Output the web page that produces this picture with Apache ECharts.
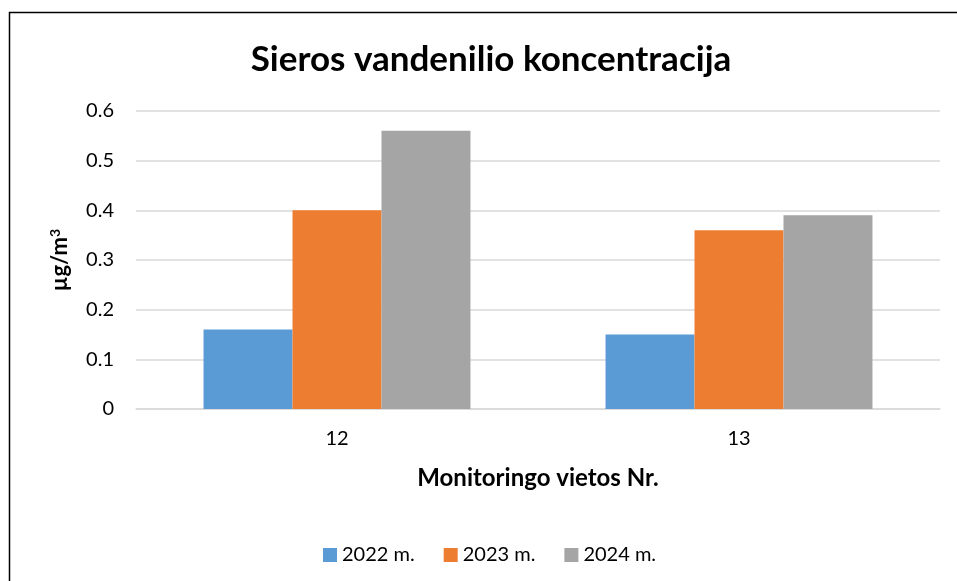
<!DOCTYPE html>
<html><head><meta charset="utf-8">
<script src="https://cdn.jsdelivr.net/npm/echarts@6/dist/echarts.min.js"></script>
<style>html,body{margin:0;padding:0;background:#fff}#c{width:957px;height:581px}</style>
</head><body><div id="c"></div>
<script>
const categories = ['12', '13'];
const seriesNames = ['2022 m.', '2023 m.', '2024 m.'];
const v2022 = [0.16, 0.15];
const v2023 = [0.40, 0.36];
const v2024 = [0.56, 0.39];
const colors = ['#5B9BD5', '#ED7D31', '#A5A5A5'];
const values = [v2022, v2023, v2024];
const F = 'Lato, "Open Sans", sans-serif';
const chart = echarts.init(document.getElementById('c'));
chart.setOption({
  animation: false,
  graphic: [{type:'rect', shape:{x:9.5, y:12.5, width:960, height:600}, style:{fill:'none', stroke:'#000', lineWidth:1.5}}],
  title: {text:'Sieros vandenilio koncentracija', left:486, textAlign:'center', top:37,
    textStyle:{fontFamily:F, fontSize:35, fontWeight:'bold', color:'#000'}},
  legend: {top:540, left:318, itemWidth:14, itemHeight:14, itemGap:29, icon:'rect',
    textStyle:{fontFamily:F, fontSize:20, color:'#000'}, data: seriesNames},
  grid: {left:136, right:17, top:111, bottom:172},
  xAxis: {type:'category', data:categories, name:'Monitoringo vietos Nr.', nameLocation:'middle', nameGap:57,
    nameTextStyle:{fontFamily:F, fontSize:24, fontWeight:'bold', color:'#000'},
    axisLine:{lineStyle:{color:'#d9d9d9', width:1.5}}, axisTick:{show:false},
    axisLabel:{fontFamily:F, fontSize:20, color:'#000', margin:20}},
  yAxis: {type:'value', min:0, max:0.6, interval:0.1, nameLocation:'middle', nameGap:64,
    name:'{b|µg/m}{s|3}',
    nameTextStyle:{fontFamily:F, fontSize:22, fontWeight:'bold', color:'#000',
      rich:{b:{fontFamily:F, fontSize:22, fontWeight:'bold', color:'#000'},
            s:{fontFamily:F, fontSize:14, fontWeight:'bold', color:'#000', verticalAlign:'top', padding:[0,0,10,0]}}},
    axisLabel:{fontFamily:F, fontSize:20, color:'#000', margin:22, formatter:v=>String(+v.toFixed(1))},
    splitLine:{lineStyle:{color:'#d9d9d9', width:1.5}}, axisLine:{show:false}, axisTick:{show:false}},
  series: seriesNames.map((n,i)=>({name:n, type:'bar', data:values[i], barGap:'0%', barCategoryGap:'33.6%',
    itemStyle:{color:colors[i]}}))
});
</script></body></html>
